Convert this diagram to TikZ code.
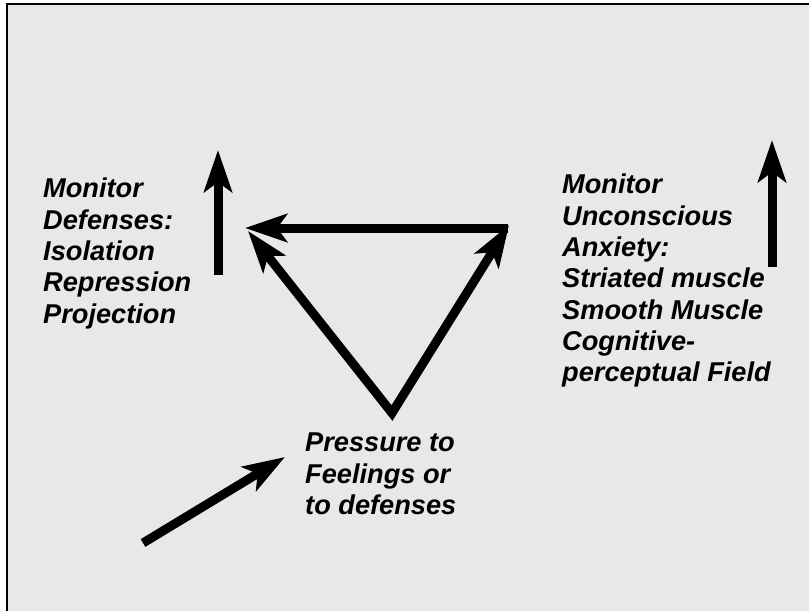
\documentclass[tikz,border=0pt]{standalone}
\usepackage{fontspec}
\setmainfont{Liberation Sans}
\usetikzlibrary{arrows.meta}
\definecolor{bg}{HTML}{E8E8E8}
\begin{document}
\begin{tikzpicture}[x=1pt,y=-1pt,
  arr/.style={line width=9pt, -{Stealth[length=42pt,width=28pt,inset=10pt]}},
  arrtwo/.style={line width=9pt, line join=miter, {Stealth[length=42pt,width=28pt,inset=10pt]}-{Stealth[length=42pt,width=28pt,inset=10pt]}},
  lbl/.style={anchor=north west, inner sep=0pt, align=left, font=\fontsize{27.2}{31.3}\selectfont\bfseries\itshape}]
\useasboundingbox (0,0) rectangle (809,611);
\fill[bg] (7,4) rectangle (809,611);
\draw[line width=2.5pt] (7,611) -- (7,4) -- (809,4);

% coordinates
\coordinate (l1) at (218,275);
\coordinate (l2) at (218,150);
\coordinate (r1) at (772,267);
\coordinate (r2) at (772,140);
\coordinate (h1) at (508,228);
\coordinate (h2) at (245,228);
\coordinate (tl) at (248,231);
\coordinate (b) at (392,413);
\coordinate (tr) at (509,225);
\coordinate (d1) at (143,543);
\coordinate (d2) at (285,457);

% arrows
\draw[arr] (l1) -- (l2);
\draw[arr] (r1) -- (r2);
\draw[arr] (h1) -- (h2);
\draw[arrtwo] (tl) -- (b) -- (tr);
\draw[arr] (d1) -- (d2);

% labels
\node[lbl] (deflbl) at (43,178) {Monitor\\Defenses:\\Isolation\\Repression\\Projection};
\node[lbl] (anxlbl) at (562,174) {Monitor\\Unconscious\\Anxiety:\\Striated muscle\\Smooth Muscle\\Cognitive-\\perceptual Field};
\node[lbl] (prslbl) at (305,433) {Pressure to\\Feelings or\\to defenses};
\end{tikzpicture}
\end{document}
